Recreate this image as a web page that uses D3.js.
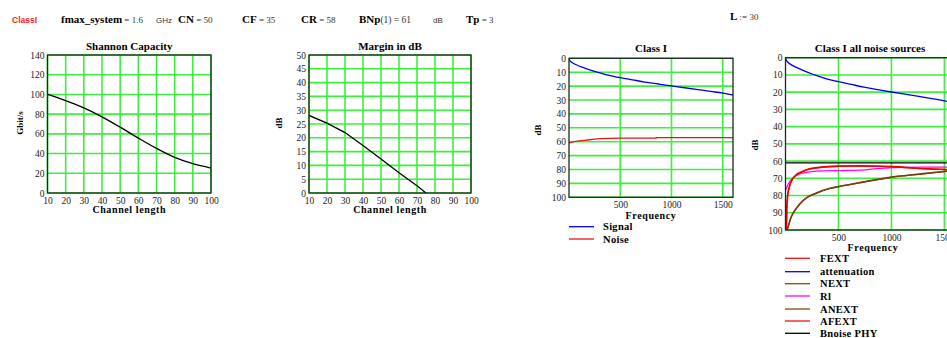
<!DOCTYPE html>
<html><head><meta charset="utf-8">
<script src="https://cdn.jsdelivr.net/npm/d3@7"></script>
<style>
body{margin:0;background:#fff;}
svg{display:block;font-family:"Liberation Serif","Times New Roman",serif;}
</style></head>
<body>
<svg id="c" width="947" height="338"></svg>
<script>
// ---- data ----
const lengths = [10,20,30,40,50,60,70,80,90,100];
const shannonCapacity = [100,93.8,86.4,77.3,66.8,55.7,45.2,36.1,29.7,25.3];
const marginLengths = [10,20,30,40,50,60,70,75,80];
const marginDb = [28.1,25.3,21.9,17.2,12.3,7.3,2.6,0,-2.2];

const sigFreq = [0,5,20,60,160,257,350,500,620,742,870,1000,1130,1258,1380,1500,1600];
const signalDb = [0,1.2,2.5,4.3,7.2,9.6,11.5,13.9,15.5,17.1,18.5,19.9,21.2,22.5,23.8,25,26.4];

const noiseFreq = [0,50,100,150,200,250,300,500,850,851,1600];
const noiseDb = [60.8,60,59.4,59,58.6,58.2,57.8,57.5,57.4,57,57];

const fextFreq = [8,12,20,40,70,100,150,200,300,400,500,700,900,1000,1100,1200,1400,1600];
const fextDb = [100,88,80,74,70,68,66.3,65,63.8,63.2,62.9,62.8,63,63.2,63.5,64,64.6,65];
const afextDb = [100,88.5,80.5,74.3,70.2,68.2,66.4,65.1,63.9,63.3,63,62.9,63.1,63.3,63.6,64.1,64.7,65.1];
const rlFreq = [0,20,50,100,200,300,500,700,900,1100,1300,1600];
const rlDb = [77,74,71,68.5,66.5,65.8,65.5,65.3,64.2,63.7,63.5,63.5];
const nextFreq = [14,30,50,80,140,200,270,420,500,700,1000,1300,1600];
const nextDb = [100,97,93,89.4,84.5,81.2,79.1,75.8,74.8,72.5,69.3,67.3,65.3];
const anextDb = [100,97.2,93.1,89.5,84.6,81.3,79.2,75.9,74.9,72.6,69.4,67.4,65.4];
const bnoisePhy = 61;

const shannonTicksY = [0,20,40,60,80,100,120,140];
const marginTicksY = [0,5,10,15,20,25,30,35,40,45,50];
const freqTicks = [500,1000,1500];
const dbTicks = [0,10,20,30,40,50,60,70,80,90,100];

const svg = d3.select("#c");
const GRID = "#3cf03c";
const SERIF = '"Liberation Serif","Times New Roman",serif';
const SANS = '"Liberation Sans",Arial,sans-serif';

function panel(o){
  const x = d3.scaleLinear().domain(o.xd).range(o.xr);
  const y = d3.scaleLinear().domain(o.yd).range(o.yr);
  const g = svg.append("g");
  const id = "clip" + Math.random().toString(36).slice(2);
  svg.append("clipPath").attr("id", id).append("rect")
    .attr("x", o.xr[0]).attr("y", Math.min(...o.yr))
    .attr("width", o.xr[1]-o.xr[0]).attr("height", Math.abs(o.yr[1]-o.yr[0]));
  g.selectAll(".gx").data(o.xGrid).join("line")
    .attr("x1", d=>x(d)).attr("x2", d=>x(d))
    .attr("y1", o.yr[0]).attr("y2", o.yr[1])
    .attr("stroke", GRID).attr("stroke-width", 1.6);
  g.selectAll(".gy").data(o.yGrid).join("line")
    .attr("x1", o.xr[0]).attr("x2", o.xr[1])
    .attr("y1", d=>y(d)).attr("y2", d=>y(d))
    .attr("stroke", GRID).attr("stroke-width", 1.6);
  const ax = d3.axisBottom(x).tickValues(o.xTicks).tickSize(0).tickPadding(4).tickFormat(d3.format("d"));
  const ga = g.append("g").attr("transform", `translate(0,${Math.max(...o.yr)})`).call(ax);
  ga.select(".domain").remove();
  ga.selectAll("text").style("font-size","9.5px").style("font-family",SERIF).attr("fill","#222");
  const ay = d3.axisLeft(y).tickValues(o.yTicks).tickSize(0).tickPadding(3).tickFormat(d3.format("d"));
  const gy = g.append("g").attr("transform", `translate(${o.xr[0]},0)`).call(ay);
  gy.select(".domain").remove();
  gy.selectAll("text").style("font-size","9.5px").style("font-family",SERIF).attr("fill","#222");
  const cg = g.append("g").attr("clip-path", `url(#${id})`);
  o.lines.forEach(l=>{
    const pts = l.xs.map((v,i)=>[v,l.ys[i]]);
    cg.append("path").datum(pts)
      .attr("d", d3.line().x(d=>x(d[0])).y(d=>y(d[1])).curve(l.curve||d3.curveMonotoneX))
      .attr("fill","none").attr("stroke", l.color).attr("stroke-width", l.w||1.3);
  });
  (o.hlines||[]).forEach(h=>{
    cg.append("line").attr("x1",o.xr[0]).attr("x2",o.xr[1]).attr("y1",y(h.v)).attr("y2",y(h.v))
      .attr("stroke",h.color).attr("stroke-width",1.3);
  });
  g.append("rect").attr("x", o.xr[0]).attr("y", Math.min(...o.yr))
    .attr("width", o.xr[1]-o.xr[0]).attr("height", Math.abs(o.yr[1]-o.yr[0]))
    .attr("fill","none").attr("stroke","#1b2a1b").attr("stroke-width",1.3);
  g.append("text").attr("x", o.titleX || (o.xr[0]+o.xr[1])/2).attr("y", o.titleY)
    .attr("text-anchor","middle").attr("font-weight","bold").attr("font-size",11).text(o.title);
  g.append("text").attr("x", o.xlabX || (o.xr[0]+o.xr[1])/2).attr("y", o.xlabY)
    .attr("text-anchor","middle").attr("font-weight","bold").attr("font-size",10)
    .attr("letter-spacing", 0.6).text(o.xlab);
  g.append("text").attr("transform", `translate(${o.ylabX},${o.ylabY}) rotate(-90)`)
    .attr("text-anchor","middle").attr("font-weight","bold").attr("font-size",9).text(o.ylab);
  return {x,y};
}

panel({xd:[10,100], xr:[47.5,211], yd:[0,140], yr:[193,55],
  xGrid:lengths, yGrid:shannonTicksY, xTicks:lengths, yTicks:shannonTicksY,
  lines:[{xs:lengths, ys:shannonCapacity, color:"#000"}],
  title:"Shannon Capacity", titleY:50, xlab:"Channel length", xlabY:213,
  ylab:"Gbit/s", ylabX:23, ylabY:123});

panel({xd:[10,100], xr:[309,471], yd:[0,50], yr:[193,55],
  xGrid:lengths, yGrid:marginTicksY, xTicks:lengths, yTicks:marginTicksY,
  lines:[{xs:marginLengths, ys:marginDb, color:"#000", curve:d3.curveLinear}],
  title:"Margin in dB", titleY:50, xlab:"Channel length", xlabY:213,
  ylab:"dB", ylabX:282, ylabY:123});

panel({xd:[0,1600], xr:[569,733], yd:[0,100], yr:[58.3,197.3],
  xGrid:freqTicks, yGrid:dbTicks, xTicks:freqTicks, yTicks:dbTicks,
  lines:[{xs:sigFreq, ys:signalDb, color:"#0000ee"},
         {xs:noiseFreq, ys:noiseDb, color:"#ee1111", curve:d3.curveLinear}],
  title:"Class I", titleY:52, xlab:"Frequency", xlabY:219,
  ylab:"dB", ylabX:541, ylabY:130});

panel({xd:[0,1600], xr:[785.5,955], yd:[0,100], yr:[57.7,230],
  xGrid:freqTicks, yGrid:dbTicks, xTicks:freqTicks, yTicks:dbTicks,
  lines:[{xs:sigFreq, ys:signalDb, color:"#0000ee"},
         {xs:nextFreq, ys:nextDb, color:"#8b4513", w:1.6},
         {xs:nextFreq, ys:anextDb, color:"#7a3c10", w:1.3},
         {xs:rlFreq, ys:rlDb, color:"#ff00ff"},
         {xs:fextFreq, ys:afextDb, color:"#ff2020", w:1.3},
         {xs:fextFreq, ys:fextDb, color:"#ee0000", w:1.6}],
  hlines:[{v:bnoisePhy, color:"#000"}],
  title:"Class I all noise sources", titleX:870, titleY:52, xlab:"Frequency", xlabX:873, xlabY:251,
  ylab:"dB", ylabX:758, ylabY:145});

function legend(x0, x1, tx, items){
  items.forEach(it=>{
    svg.append("line").attr("x1",x0).attr("x2",x1).attr("y1",it.y).attr("y2",it.y)
      .attr("stroke",it.color).attr("stroke-width",1.3);
    svg.append("text").attr("x",tx).attr("y",it.y+3.5).attr("font-weight","bold")
      .attr("font-size",10.5).attr("letter-spacing",0.3).text(it.label);
  });
}
legend(569, 594, 603, [{label:"Signal", color:"#0000ee", y:226.7},{label:"Noise", color:"#ee1111", y:239}]);
legend(785, 810, 820, [
  {label:"FEXT", color:"#ee1111", y:258.3},
  {label:"attenuation", color:"#0000ee", y:271.7},
  {label:"NEXT", color:"#8b4513", y:283.7},
  {label:"Rl", color:"#ff00ff", y:296},
  {label:"ANEXT", color:"#8b4513", y:309},
  {label:"AFEXT", color:"#ee1111", y:321},
  {label:"Bnoise PHY", color:"#000", y:333.3}]);

const hdr = svg.append("g");
hdr.append("text").attr("x",12).attr("y",22.5).attr("fill","#ff2020")
  .style("font-family",SANS).attr("font-weight","bold").attr("font-size",8.5).text("ClassI");
function expr(x, y, name, rest){
  const t = hdr.append("text").attr("x",x).attr("y",y);
  t.append("tspan").attr("font-weight","bold").attr("font-size",11).text(name);
  t.append("tspan").attr("font-size",9).attr("fill","#333").text(rest);
}
expr(61, 23, "fmax_system", " = 1.6");
hdr.append("text").attr("x",156).attr("y",22.5).style("font-family",SANS)
  .attr("font-size",8).attr("fill","#333").text("GHz");
expr(178, 23, "CN", " = 50");
expr(242, 23, "CF", " = 35");
expr(301, 23, "CR", " = 58");
const bn = hdr.append("text").attr("x",359).attr("y",23);
bn.append("tspan").attr("font-weight","bold").attr("font-size",11).text("BNp");
bn.append("tspan").attr("font-size",9.5).attr("fill","#333").text("(1) = 61");
hdr.append("text").attr("x",433).attr("y",22.5).style("font-family",SANS)
  .attr("font-size",8).attr("fill","#333").text("dB");
expr(466, 23, "Tp", " = 3");
expr(730, 20, "L", " := 30");
</script>
</body></html>
